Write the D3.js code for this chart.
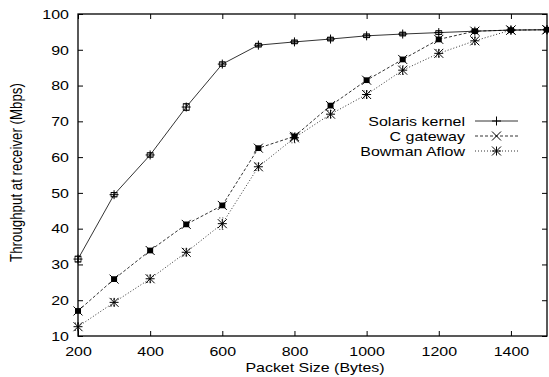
<!DOCTYPE html>
<html>
<head>
<meta charset="utf-8">
<script src="https://cdn.jsdelivr.net/npm/d3@7"></script>
<style>
body { margin: 0; background: #fff; }
svg { font-family: "Liberation Sans", Arial, sans-serif; }
</style>
</head>
<body>
<div class="container"></div>
<script>
"use strict";

var width = 549;
var height = 377;

// packet sizes (bytes)
var sizes = [200, 300, 400, 500, 600, 700, 800, 900, 1000, 1100, 1200, 1300, 1400, 1500];

// throughput (Mbps)
var solaris = [31.5, 49.5, 60.6, 74.0, 86.0, 91.3, 92.2, 93.0, 93.9, 94.4, 94.8, 95.2, 95.5, 95.6];
var cGateway = [17.0, 25.9, 33.9, 41.2, 46.5, 62.5, 65.8, 74.4, 81.5, 87.3, 92.9, 95.2, 95.5, 95.6];
var bowman = [12.6, 19.4, 26.0, 33.4, 41.4, 57.3, 65.4, 72.0, 77.5, 84.3, 89.0, 92.5, 95.5, 95.6];

// error (+/-)
var solarisErr = [0.8, 0.6, 0.6, 0.9, 0.6, 0.5, 0.5, 0.5, 0.5, 0.5, 0.5, 0.4, 0.4, 0.4];
var cGatewayErr = [0.8, 0.8, 0.8, 0.8, 0.8, 0.8, 0.8, 0.8, 0.8, 0.8, 0.8, 0.8, 0.8, 0.8];
var bowmanErr = [1.0, 1.0, 1.0, 1.0, 1.6, 1.0, 1.4, 1.0, 1.0, 1.2, 1.0, 1.0, 0.8, 0.6];

var xTicks = [200, 400, 600, 800, 1000, 1200, 1400];
var yTicks = [10, 20, 30, 40, 50, 60, 70, 80, 90, 100];

var series = [
    {name: "Solaris kernel", values: solaris, err: solarisErr, dash: null, marker: "plus", fillBar: false},
    {name: "C gateway", values: cGateway, err: cGatewayErr, dash: "3,2", marker: "cross", fillBar: true},
    {name: "Bowman Aflow", values: bowman, err: bowmanErr, dash: "1,2", marker: "star", fillBar: false}
];

var fontSize = 13.3;
var stretchX = 1.2; // the original text looks widened
var margin = {left: 78, right: 2, top: 14, bottom: 41};

var x = d3.scaleLinear().domain([200, 1500]).range([margin.left, width - margin.right]);
var y = d3.scaleLinear().domain([10, 100]).range([height - margin.bottom, margin.top]);

var svg = d3.select(".container").append("svg")
    .attr("width", width)
    .attr("height", height);

// widen horizontal text around its anchor
function stretch(sel) {
    sel.each(function() {
        var t = d3.select(this);
        var x0 = +t.attr("x") || 0;
        t.attr("x", x0 / stretchX).attr("transform", "scale(" + stretchX + ",1)");
    });
}

// axes with inward ticks
var tickLen = 5;
svg.append("g")
    .attr("transform", "translate(0," + y(10) + ")")
    .call(d3.axisBottom(x).tickValues(xTicks).tickFormat(d3.format("d"))
        .tickSizeInner(-tickLen).tickSizeOuter(0).tickPadding(11))
    .call(g => g.select(".domain").remove());
svg.append("g")
    .attr("transform", "translate(0," + y(100) + ")")
    .call(d3.axisTop(x).tickValues(xTicks).tickSizeInner(-tickLen).tickSizeOuter(0).tickFormat(""))
    .call(g => g.select(".domain").remove());
svg.append("g")
    .attr("transform", "translate(" + x(200) + ",0)")
    .call(d3.axisLeft(y).tickValues(yTicks).tickSizeInner(-tickLen).tickSizeOuter(0).tickPadding(9))
    .call(g => g.select(".domain").remove());
svg.append("g")
    .attr("transform", "translate(" + x(1500) + ",0)")
    .call(d3.axisRight(y).tickValues(yTicks).tickSizeInner(-tickLen).tickSizeOuter(0).tickFormat(""))
    .call(g => g.select(".domain").remove());

svg.selectAll(".tick text")
    .attr("font-size", fontSize)
    .attr("font-family", "Liberation Sans, Arial, sans-serif")
    .attr("fill", "#000")
    .call(stretch);
svg.selectAll(".tick line").attr("stroke", "#000");

// frame
svg.append("rect")
    .attr("x", x(200))
    .attr("y", y(100))
    .attr("width", x(1500) - x(200))
    .attr("height", y(10) - y(100))
    .attr("fill", "none")
    .attr("stroke", "#000")
    .attr("stroke-width", 1.3);

var line = d3.line()
    .x((d, i) => x(sizes[i]))
    .y(d => y(d));

function drawMarker(g, type, cx, cy, s) {
    var p;
    if (type === "plus") {
        p = `M${cx - s},${cy}H${cx + s}M${cx},${cy - s}V${cy + s}`;
    } else if (type === "cross") {
        p = `M${cx - s},${cy - s}L${cx + s},${cy + s}M${cx - s},${cy + s}L${cx + s},${cy - s}`;
    } else {
        p = `M${cx - s},${cy}H${cx + s}M${cx},${cy - s}V${cy + s}` +
            `M${cx - s},${cy - s}L${cx + s},${cy + s}M${cx - s},${cy + s}L${cx + s},${cy - s}`;
    }
    g.append("path").attr("d", p).attr("stroke", "#000").attr("stroke-width", 1).attr("fill", "none");
}

series.forEach(function(s) {
    var g = svg.append("g");
    g.append("path")
        .datum(s.values)
        .attr("d", line)
        .attr("fill", "none")
        .attr("stroke", "#000")
        .attr("stroke-width", 0.8)
        .attr("stroke-dasharray", s.dash);

    s.values.forEach(function(v, i) {
        var cx = x(sizes[i]), cy = y(v);
        var y0 = y(v - s.err[i]), y1 = y(v + s.err[i]);
        if (s.fillBar) {
            g.append("rect")
                .attr("x", cx - 3).attr("y", y1)
                .attr("width", 6).attr("height", y0 - y1)
                .attr("fill", "#000");
        } else {
            g.append("path")
                .attr("d", `M${cx},${y0}V${y1}M${cx - 3},${y0}H${cx + 3}M${cx - 3},${y1}H${cx + 3}`)
                .attr("stroke", "#000")
                .attr("stroke-width", 0.8)
                .attr("stroke-dasharray", s.dash)
                .attr("fill", "none");
            if (s.marker === "plus") {
                g.append("rect")
                    .attr("x", cx - 3).attr("y", y1)
                    .attr("width", 6).attr("height", y0 - y1)
                    .attr("fill", "none").attr("stroke", "#000").attr("stroke-width", 0.8);
            }
        }
        drawMarker(g, s.marker, cx, cy, 4.5);
    });
});

// legend
var legend = svg.append("g");
series.forEach(function(s, i) {
    var ly = 121 + i * 15;
    legend.append("text")
        .attr("x", 465)
        .attr("y", ly)
        .attr("dy", "0.35em")
        .attr("text-anchor", "end")
        .attr("font-size", fontSize)
        .text(s.name)
        .call(stretch);
    legend.append("line")
        .attr("x1", 475).attr("x2", 518)
        .attr("y1", ly).attr("y2", ly)
        .attr("stroke", "#000")
        .attr("stroke-width", 0.8)
        .attr("stroke-dasharray", s.dash);
    drawMarker(legend, s.marker, 496.5, ly, 4.5);
});

// axis labels
svg.append("text")
    .attr("x", 315)
    .attr("y", 367)
    .attr("dy", "0.35em")
    .attr("text-anchor", "middle")
    .attr("font-size", fontSize)
    .text("Packet Size (Bytes)")
    .call(stretch);

svg.append("text")
    .attr("transform", "translate(16,172.5) scale(" + stretchX + ",1) rotate(-90)")
    .attr("dy", "0.35em")
    .attr("text-anchor", "middle")
    .attr("font-size", fontSize)
    .text("Throughput at receiver (Mbps)");
</script>
</body>
</html>
